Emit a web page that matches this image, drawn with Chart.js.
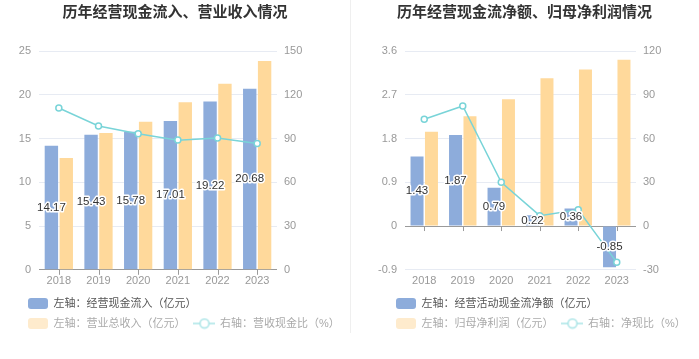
<!DOCTYPE html>
<html>
<head>
<meta charset="utf-8">
<script src="https://cdn.jsdelivr.net/npm/chart.js@4.4.1/dist/chart.umd.min.js"></script>
<style>
  body { margin: 0; background: #fff; }
  #wrap { position: relative; width: 699px; height: 359px; }
  #c1 { position: absolute; left: 0; top: 0; }
  #c2 { position: absolute; left: 350px; top: 0; }
  #sep { position: absolute; left: 350px; top: 0; width: 1px; height: 333px; background: #efefef; }
</style>
</head>
<body>
<div id="wrap">
  <canvas id="c1" width="350" height="359"></canvas>
  <div id="sep"></div>
  <canvas id="c2" width="349" height="359"></canvas>
</div>
<script>
// data
var years = ['2018', '2019', '2020', '2021', '2022', '2023'];

var cashIn = [14.17, 15.43, 15.78, 17.01, 19.22, 20.68];
var revenue = [12.76, 15.64, 16.93, 19.13, 21.25, 23.86];
var cashRatio = [110.9, 98.6, 93.3, 88.9, 90.4, 86.6];
var ticksL1 = [0, 5, 10, 15, 20, 25];
var ticksR1 = [0, 30, 60, 90, 120, 150];

var netCash = [1.43, 1.87, 0.79, 0.22, 0.36, -0.85];
var netProfit = [1.94, 2.26, 2.61, 3.04, 3.22, 3.42];
var netRatio = [73.2, 82.3, 30.0, 7.1, 11.1, -24.9];
var ticksL2 = [-0.9, 0, 0.9, 1.8, 2.7, 3.6];
var ticksR2 = [-30, 0, 30, 60, 90, 120];

var FONT = '"Liberation Sans", "Noto Sans CJK SC", sans-serif';
var BLUE = '#8dacdb';
var ORANGE = '#ffd99b';
var TEAL = '#79d4d8';

function swatch(color) {
    var c = document.createElement('canvas');
    c.width = 20; c.height = 11;
    var g = c.getContext('2d');
    g.fillStyle = color;
    g.beginPath();
    g.roundRect(0, 0, 20, 11, 3);
    g.fill();
    return c;
}

function lineIcon(color) {
    var c = document.createElement('canvas');
    c.width = 22; c.height = 12;
    var g = c.getContext('2d');
    g.strokeStyle = color;
    g.lineWidth = 1.5;
    g.beginPath(); g.moveTo(0, 6); g.lineTo(22, 6); g.stroke();
    g.beginPath(); g.arc(11, 6, 4.5, 0, Math.PI * 2);
    g.fillStyle = '#fff'; g.fill(); g.stroke();
    return c;
}

// value labels in the middle of the blue bars
var barLabels = {
    id: 'barLabels',
    afterDatasetsDraw: function(chart) {
        var ctx = chart.ctx;
        var meta = chart.getDatasetMeta(0);
        var data = chart.data.datasets[0].data;
        ctx.save();
        ctx.font = '11.5px ' + FONT;
        ctx.textAlign = 'center';
        ctx.textBaseline = 'middle';
        ctx.lineJoin = 'round';
        ctx.lineWidth = 3;
        ctx.strokeStyle = '#fff';
        ctx.fillStyle = '#333';
        meta.data.forEach(function(bar, i) {
            var y = (bar.y + bar.base) / 2;
            var t = data[i].toFixed(2);
            ctx.strokeText(t, bar.x, y);
            ctx.fillText(t, bar.x, y);
        });
        ctx.restore();
    }
};

// small tick marks under the zero line
var zeroTicks = {
    id: 'zeroTicks',
    beforeDatasetsDraw: function(chart) {
        var ctx = chart.ctx, x = chart.scales.x, y0 = chart.scales.y.getPixelForValue(0);
        ctx.save();
        ctx.strokeStyle = '#9a9a9a';
        ctx.lineWidth = 1;
        ctx.beginPath();
        for (var i = 0; i < years.length; i++) {
            var px = Math.round(x.getPixelForValue(i)) + 0.5;
            ctx.moveTo(px, y0);
            ctx.lineTo(px, y0 + 5);
        }
        ctx.stroke();
        ctx.restore();
    }
};

var legendShift = {
    id: 'legendShift',
    afterLayout: function(chart, args, opts) {
        var lg = chart.legend;
        var dx = opts.left - lg.left;
        lg.left += dx;
        lg.right += dx;
        lg.top += opts.dy;
        lg.bottom += opts.dy;
    }
};

function makeChart(id, o) {
    var ctx = document.getElementById(id).getContext('2d');
    return new Chart(ctx, {
        type: 'bar',
        data: {
            labels: years,
            datasets: [{
                label: o.names[0],
                data: o.bar1,
                backgroundColor: BLUE,
                order: 1,
                yAxisID: 'y'
            }, {
                label: o.names[1],
                data: o.bar2,
                backgroundColor: ORANGE,
                order: 2,
                yAxisID: 'y'
            }, {
                type: 'line',
                label: o.names[2],
                data: o.line,
                borderColor: TEAL,
                borderWidth: 1.5,
                pointRadius: 3,
                pointBorderWidth: 1.5,
                pointBackgroundColor: '#fff',
                pointBorderColor: TEAL,
                tension: 0,
                order: 0,
                yAxisID: 'y1'
            }]
        },
        options: {
            responsive: false,
            animation: false,
            categoryPercentage: 0.75,
            barPercentage: 0.9,
            layout: { padding: { top: 0, left: 0, right: 0, bottom: 16 } },
            scales: {
                x: {
                    grid: { display: false, drawTicks: false },
                    border: { display: false },
                    ticks: { color: '#999', font: { size: 11, family: FONT }, padding: 5 }
                },
                y: {
                    position: 'left',
                    min: o.ticksL[0],
                    max: o.ticksL[o.ticksL.length - 1],
                    afterBuildTicks: function(s) { s.ticks = o.ticksL.map(function(v) { return { value: v }; }); },
                    afterFit: function(s) { s.width = o.leftW; },
                    grid: {
                        drawTicks: false,
                        color: function(c) { return c.tick && c.tick.value === 0 ? '#9a9a9a' : '#e7ebf3'; }
                    },
                    border: { display: false },
                    ticks: {
                        color: '#999', font: { size: 11, family: FONT }, padding: 8,
                        callback: function(v) { return String(+v.toFixed(1)); }
                    }
                },
                y1: {
                    position: 'right',
                    min: o.ticksR[0],
                    max: o.ticksR[o.ticksR.length - 1],
                    afterBuildTicks: function(s) { s.ticks = o.ticksR.map(function(v) { return { value: v }; }); },
                    afterFit: function(s) { s.width = o.rightW; },
                    grid: { display: false, drawTicks: false },
                    border: { display: false },
                    ticks: { color: '#999', font: { size: 11, family: FONT }, padding: 7 }
                }
            },
            plugins: {
                title: {
                    display: true,
                    text: o.title,
                    color: '#333',
                    font: { size: 15, weight: 'bold', family: FONT },
                    padding: { top: 4, bottom: 29 }
                },
                legend: {
                    position: 'bottom',
                    align: 'start',
                    maxWidth: 320,
                    labels: {
                        usePointStyle: true,
                        pointStyleWidth: 20,
                        boxHeight: 11,
                        padding: 9,
                        font: { size: 11, family: FONT },
                        generateLabels: function() {
                            return [
                                { text: o.names[0], pointStyle: swatch(BLUE), fontColor: '#555', datasetIndex: 0, lineWidth: 0 },
                                { text: o.names[1], pointStyle: swatch('#feebcd'), fontColor: '#aaa', datasetIndex: 1, lineWidth: 0 },
                                { text: o.names[2], pointStyle: lineIcon('#a9e4e6'), fontColor: '#aaa', datasetIndex: 2, lineWidth: 0 }
                            ];
                        }
                    }
                },
                tooltip: { enabled: false },
                legendShift: { left: o.legendLeft, dy: -4 }
            }
        },
        plugins: [barLabels, zeroTicks, legendShift]
    });
}

makeChart('c1', {
    title: '历年经营现金流入、营业收入情况',
    names: ['左轴：经营现金流入（亿元）', '左轴：营业总收入（亿元）', '右轴：营收现金比（%）'],
    bar1: cashIn, bar2: revenue, line: cashRatio,
    ticksL: ticksL1, ticksR: ticksR1,
    leftW: 39, rightW: 73, legendLeft: 19
});

makeChart('c2', {
    title: '历年经营现金流净额、归母净利润情况',
    names: ['左轴：经营活动现金流净额（亿元）', '左轴：归母净利润（亿元）', '右轴：净现比（%）'],
    bar1: netCash, bar2: netProfit, line: netRatio,
    ticksL: ticksL2, ticksR: ticksR2,
    leftW: 55, rightW: 63, legendLeft: 37
});
</script>
</body>
</html>
